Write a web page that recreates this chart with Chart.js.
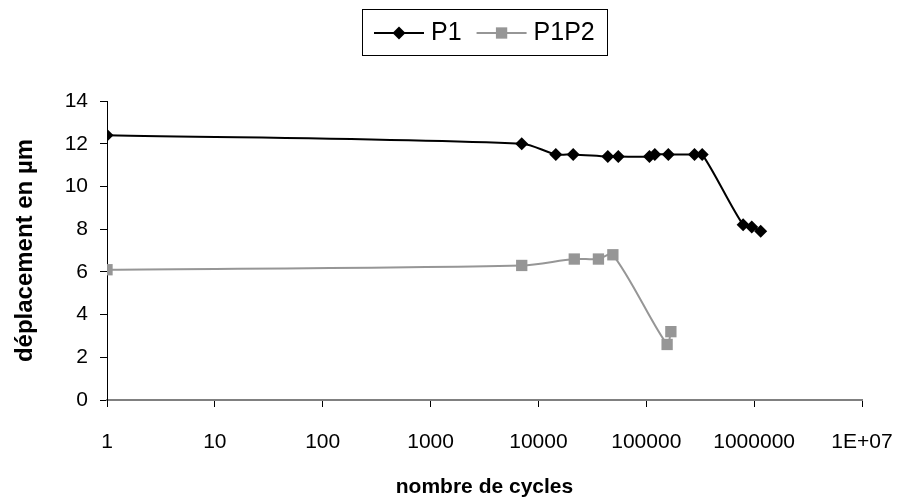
<!DOCTYPE html>
<html>
<head>
<meta charset="utf-8">
<script src="https://cdn.jsdelivr.net/npm/chart.js@4.4.0/dist/chart.umd.min.js"></script>
<style>
  html, body { margin: 0; padding: 0; background: #fff; }
  #wrap { width: 902px; height: 498px; }
</style>
</head>
<body>
<div id="wrap"><canvas id="chart" width="902" height="498"></canvas></div>
<script>
// values (cycles on a log axis, displacement in µm)
var cycles_p1 = [1, 7000, 14500, 21000, 44000, 55000, 107000, 120000, 160000, 280000, 330000, 790000, 950000, 1150000];
var depl_p1 = [12.4, 12.0, 11.5, 11.5, 11.4, 11.4, 11.4, 11.5, 11.5, 11.5, 11.5, 8.2, 8.1, 7.9];

var cycles_p1p2 = [1, 7000, 21500, 36000, 49000, 156000, 169000];
var depl_p1p2 = [6.1, 6.3, 6.6, 6.6, 6.8, 2.6, 3.2];

var series_names = ["P1", "P1P2"];
var x_tick_values = [1, 10, 100, 1000, 10000, 100000, 1000000, 10000000];
var x_tick_labels = ["1", "10", "100", "1000", "10000", "100000", "1000000", "1E+07"];

var FONT = "'Liberation Sans', Arial, sans-serif";

function toPoints(xs, ys) {
    return xs.map((x, i) => ({ x: x, y: ys[i] }));
}

// legend drawn as Excel does it: line + marker + name, inside a thin box
var boxLegend = {
    id: "boxLegend",
    afterDraw: function (chart) {
        var ctx = chart.ctx;
        var sets = chart.data.datasets;
        var lineLen = 50, gapText = 7, gapItem = 15, padX = 12;
        ctx.save();
        ctx.font = "25px " + FONT;
        var widths = sets.map((d) => lineLen + gapText + ctx.measureText(d.label).width);
        var total = widths.reduce((a, b) => a + b, 0) + gapItem * (sets.length - 1) + padX * 2;
        var cx = (chart.chartArea.left + chart.chartArea.right) / 2;
        var left = Math.round(cx - total / 2);
        var top = 9, h = 46;
        ctx.strokeStyle = "#000";
        ctx.lineWidth = 1;
        ctx.strokeRect(left + 0.5, top + 0.5, Math.round(total), h);

        var x = left + padX;
        var cy = top + h / 2 + 1;
        sets.forEach((d, i) => {
            ctx.strokeStyle = d.borderColor;
            ctx.lineWidth = d.borderWidth;
            ctx.beginPath();
            ctx.moveTo(x, cy);
            ctx.lineTo(x + lineLen, cy);
            ctx.stroke();

            var mx = x + lineLen / 2, r = d.pointRadius;
            ctx.fillStyle = d.pointBackgroundColor;
            ctx.beginPath();
            if (d.pointStyle === "rectRot") {
                ctx.moveTo(mx - r, cy);
                ctx.lineTo(mx, cy - r);
                ctx.lineTo(mx + r, cy);
                ctx.lineTo(mx, cy + r);
            } else {
                var s = r * Math.SQRT1_2;
                ctx.rect(mx - s, cy - s, 2 * s, 2 * s);
            }
            ctx.closePath();
            ctx.fill();

            ctx.fillStyle = "#000";
            ctx.textBaseline = "middle";
            ctx.textAlign = "left";
            ctx.fillText(d.label, x + lineLen + gapText, cy);
            x += widths[i] + gapItem;
        });
        ctx.restore();
    },
};

var ctx = document.getElementById("chart").getContext("2d");

new Chart(ctx, {
    type: "line",
    data: {
        datasets: [
            {
                label: series_names[0],
                data: toPoints(cycles_p1, depl_p1),
                borderColor: "#000000",
                backgroundColor: "#000000",
                pointBackgroundColor: "#000000",
                pointBorderWidth: 0,
                borderWidth: 2,
                pointStyle: "rectRot",
                pointRadius: 6.5,
                tension: 0.3,
                fill: false,
            },
            {
                label: series_names[1],
                data: toPoints(cycles_p1p2, depl_p1p2),
                borderColor: "#969696",
                backgroundColor: "#969696",
                pointBackgroundColor: "#969696",
                pointBorderWidth: 0,
                borderWidth: 2,
                pointStyle: "rect",
                pointRadius: 8,
                tension: 0.3,
                fill: false,
            },
        ],
    },
    options: {
        responsive: false,
        animation: false,
        devicePixelRatio: 1,
        layout: { padding: { top: 101, right: 40, left: 0, bottom: 0 } },
        plugins: {
            legend: { display: false },
            tooltip: { enabled: false },
        },
        scales: {
            x: {
                type: "logarithmic",
                min: 1,
                max: 10000000,
                afterBuildTicks: function (scale) {
                    scale.ticks = x_tick_values.map((v) => ({ value: v, major: true }));
                },
                afterFit: function (scale) {
                    scale.height = 98;
                    // the last label may hang over the right margin, as in Excel
                    scale.paddingLeft = 0;
                    scale.paddingRight = 0;
                },
                ticks: {
                    autoSkip: false,
                    maxRotation: 0,
                    color: "#000",
                    padding: 23,
                    font: { family: FONT, size: 21 },
                    callback: function (value, index) {
                        return x_tick_labels[index];
                    },
                },
                grid: {
                    drawOnChartArea: false,
                    drawTicks: true,
                    tickLength: 7,
                    color: "#000",
                },
                border: { display: true, color: "#808080", width: 2 },
                title: {
                    display: true,
                    text: "nombre de cycles",
                    color: "#000",
                    font: { family: FONT, size: 21, weight: "bold", lineHeight: 1 },
                    padding: { top: 0, bottom: 0 },
                },
            },
            y: {
                min: 0,
                max: 14,
                afterFit: function (scale) {
                    scale.width = 107;
                },
                ticks: {
                    stepSize: 2,
                    color: "#000",
                    padding: 12,
                    font: { family: FONT, size: 21 },
                },
                grid: {
                    drawOnChartArea: false,
                    drawTicks: true,
                    tickLength: 7,
                    color: "#000",
                },
                border: { display: true, color: "#000", width: 1 },
                title: {
                    display: true,
                    text: "déplacement en µm",
                    color: "#000",
                    font: { family: FONT, size: 24, weight: "bold", lineHeight: 1 },
                    padding: { top: 13, bottom: 0 },
                },
            },
        },
    },
    plugins: [boxLegend],
});
</script>
</body>
</html>
